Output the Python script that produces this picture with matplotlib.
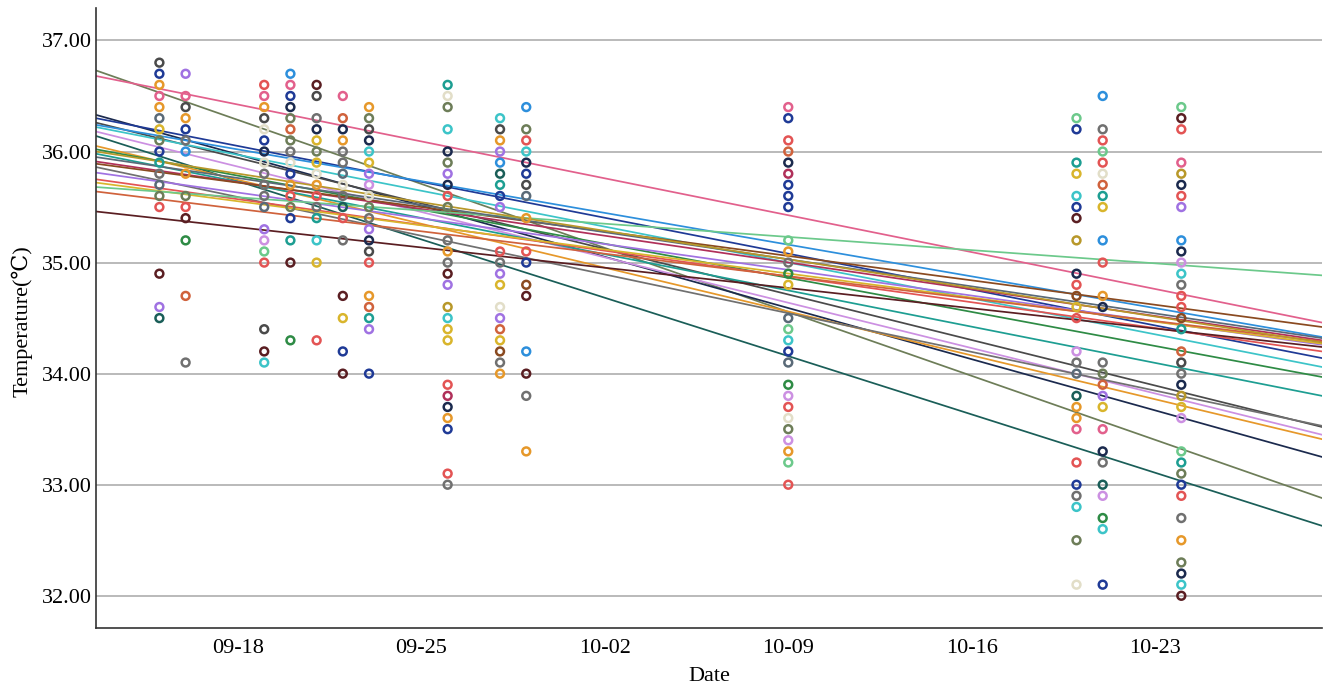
import matplotlib
matplotlib.use("Agg")
import matplotlib.pyplot as plt
import matplotlib.dates as mdates
import numpy as np
from datetime import datetime, timedelta

# colour names used by both the points and the fitted lines
palette = {
    "navy": "#1f3a96", "dnavy": "#1b2a4e", "blue": "#2d8fdc", "cyan": "#3cc4c8",
    "teal": "#1d9e92", "dteal": "#1a5e58", "green": "#2e8b45", "lgreen": "#6cc98b",
    "olive": "#6d7d58", "gold": "#d9b52c", "ogold": "#b8982a", "orange": "#e6982a",
    "rorange": "#d0623c", "red": "#e35454", "pink": "#e2608c", "crimson": "#b0305a",
    "maroon": "#5a1e22", "brown": "#8a4a20", "purple": "#a072e2", "lpurple": "#cc90e2",
    "gray": "#707070", "dgray": "#4a4a4a", "slate": "#5a6a78", "light": "#e2dec8",
}

dates = ["09-15", "09-16", "09-19", "09-20", "09-21", "09-22", "09-23",
         "09-26", "09-28", "09-29", "10-09", "10-20", "10-21", "10-24"]

temps = [
    [36.8, 36.7, 36.6, 36.5, 36.4, 36.3, 36.2, 36.1, 36.0, 35.9, 35.8, 35.7, 35.6, 35.5, 34.9, 34.6, 34.5],
    [36.7, 36.5, 36.4, 36.3, 36.2, 36.1, 36.0, 35.8, 35.6, 35.5, 35.4, 35.2, 34.7, 34.1],
    [36.6, 36.5, 36.4, 36.3, 36.2, 36.1, 36.0, 35.9, 35.8, 35.7, 35.6, 35.5, 35.3, 35.2, 35.1, 35.0, 34.4, 34.2, 34.1],
    [36.7, 36.6, 36.5, 36.4, 36.3, 36.2, 36.1, 36.0, 35.9, 35.8, 35.7, 35.6, 35.5, 35.4, 35.2, 35.0, 34.3],
    [36.6, 36.5, 36.3, 36.2, 36.1, 36.0, 35.9, 35.8, 35.7, 35.6, 35.5, 35.4, 35.2, 35.0, 34.3],
    [36.5, 36.3, 36.2, 36.1, 36.0, 35.9, 35.8, 35.7, 35.6, 35.5, 35.4, 35.2, 34.7, 34.5, 34.2, 34.0],
    [36.4, 36.3, 36.2, 36.1, 36.0, 35.9, 35.8, 35.7, 35.6, 35.5, 35.4, 35.3, 35.2, 35.1, 35.0, 34.7, 34.6, 34.5, 34.4, 34.0],
    [36.6, 36.5, 36.4, 36.2, 36.0, 35.9, 35.8, 35.7, 35.6, 35.5, 35.2, 35.1, 35.0, 34.9, 34.8, 34.6, 34.5, 34.4, 34.3,
     33.9, 33.8, 33.7, 33.6, 33.5, 33.1, 33.0],
    [36.3, 36.2, 36.1, 36.0, 35.9, 35.8, 35.7, 35.6, 35.5, 35.1, 35.0, 34.9, 34.8, 34.6, 34.5, 34.4, 34.3, 34.2, 34.1, 34.0],
    [36.4, 36.2, 36.1, 36.0, 35.9, 35.8, 35.7, 35.6, 35.4, 35.1, 35.0, 34.8, 34.7, 34.2, 34.0, 33.8, 33.3],
    [36.4, 36.3, 36.1, 36.0, 35.9, 35.8, 35.7, 35.6, 35.5, 35.2, 35.1, 35.0, 34.9, 34.8, 34.5, 34.4, 34.3, 34.2,
     34.1, 33.9, 33.8, 33.7, 33.6, 33.5, 33.4, 33.3, 33.2, 33.0],
    [36.3, 36.2, 35.9, 35.8, 35.6, 35.5, 35.4, 35.2, 34.9, 34.8, 34.7, 34.6, 34.5, 34.2, 34.1, 34.0, 33.8, 33.7,
     33.6, 33.5, 33.2, 33.0, 32.9, 32.8, 32.5, 32.1],
    [36.5, 36.2, 36.1, 36.0, 35.9, 35.8, 35.7, 35.6, 35.5, 35.2, 35.0, 34.7, 34.6, 34.1, 34.0, 33.9, 33.8, 33.7,
     33.5, 33.3, 33.2, 33.0, 32.9, 32.7, 32.6, 32.1],
    [36.4, 36.3, 36.2, 35.9, 35.8, 35.7, 35.6, 35.5, 35.2, 35.1, 35.0, 34.9, 34.8, 34.7, 34.6, 34.5, 34.4, 34.2,
     34.1, 34.0, 33.9, 33.8, 33.7, 33.6, 33.3, 33.2, 33.1, 33.0, 32.9, 32.7, 32.5, 32.3, 32.2, 32.1, 32.0],
]

point_colors = [
    ["dgray", "navy", "orange", "pink", "orange", "slate", "gold", "olive", "navy", "teal", "gray", "slate",
     "olive", "red", "maroon", "purple", "dteal"],
    ["purple", "pink", "dgray", "orange", "navy", "gray", "blue", "orange", "olive", "red", "maroon", "green",
     "rorange", "gray"],
    ["red", "pink", "orange", "dgray", "light", "navy", "dnavy", "light", "gray", "gray", "gray", "slate",
     "purple", "lpurple", "lgreen", "red", "dgray", "maroon", "cyan"],
    ["blue", "pink", "navy", "dnavy", "olive", "rorange", "olive", "gray", "light", "navy", "orange", "red",
     "olive", "navy", "teal", "maroon", "green"],
    ["maroon", "dgray", "gray", "dnavy", "gold", "olive", "gold", "light", "orange", "red", "gray", "teal",
     "cyan", "gold", "red"],
    ["pink", "rorange", "dnavy", "orange", "gray", "gray", "slate", "light", "gray", "dteal", "red", "gray",
     "maroon", "gold", "navy", "maroon"],
    ["orange", "olive", "dgray", "dnavy", "cyan", "gold", "purple", "lpurple", "light", "olive", "gray",
     "purple", "dnavy", "dgray", "red", "orange", "rorange", "teal", "purple", "navy"],
    ["teal", "light", "olive", "cyan", "dnavy", "olive", "purple", "dnavy", "red", "olive", "gray", "orange",
     "gray", "maroon", "purple", "ogold", "cyan", "gold", "gold", "red", "crimson", "dnavy", "orange", "navy",
     "red", "gray"],
    ["cyan", "dgray", "orange", "purple", "blue", "dteal", "teal", "navy", "purple", "red", "gray", "purple",
     "gold", "light", "purple", "rorange", "gold", "brown", "gray", "orange"],
    ["blue", "olive", "red", "cyan", "dnavy", "navy", "dgray", "slate", "orange", "red", "navy", "brown",
     "maroon", "blue", "maroon", "gray", "orange"],
    ["pink", "navy", "red", "rorange", "dnavy", "crimson", "navy", "navy", "navy", "lgreen", "orange", "gray",
     "green", "gold", "slate", "lgreen", "cyan", "navy", "slate", "green", "lpurple", "red", "light", "olive",
     "lpurple", "orange", "lgreen", "red"],
    ["lgreen", "navy", "teal", "gold", "cyan", "navy", "maroon", "ogold", "dnavy", "red", "brown", "gold",
     "red", "lpurple", "gray", "slate", "dteal", "orange", "orange", "pink", "red", "navy", "gray", "cyan",
     "olive", "light"],
    ["blue", "gray", "red", "lgreen", "red", "light", "rorange", "teal", "gold", "blue", "red", "orange",
     "dnavy", "gray", "olive", "rorange", "purple", "gold", "pink", "dnavy", "gray", "dteal", "lpurple",
     "green", "cyan", "navy"],
    ["lgreen", "maroon", "red", "pink", "ogold", "dnavy", "red", "purple", "blue", "dnavy", "lpurple", "cyan",
     "gray", "red", "red", "brown", "teal", "rorange", "dgray", "gray", "dnavy", "ogold", "gold", "lpurple",
     "lgreen", "teal", "olive", "navy", "red", "gray", "orange", "olive", "dnavy", "cyan", "maroon"],
]

# fitted lines: value at the left edge and at the right edge of the axis
line_colors = ["olive", "pink", "dnavy", "navy", "dgray", "cyan", "blue", "lpurple", "dteal", "orange",
               "green", "teal", "crimson", "brown", "gray", "red", "purple", "gold", "lgreen", "rorange",
               "maroon", "slate", "ogold"]
line_start = [36.73, 36.68, 36.33, 36.30, 36.26, 36.22, 36.24, 36.18, 36.14, 36.05,
              36.02, 35.98, 35.91, 35.89, 35.86, 35.75, 35.81, 35.72, 35.68, 35.64,
              35.46, 35.95, 36.00]
line_end = [32.88, 34.46, 33.25, 34.14, 33.52, 34.06, 34.33, 33.45, 32.63, 33.41,
            33.97, 33.80, 34.30, 34.42, 33.53, 34.20, 34.26, 34.27, 34.885, 34.29,
            34.24, 34.32, 34.28]

year = 2023
x_left = datetime(year, 9, 18) - timedelta(days=5.42)
x_right = datetime(year, 9, 18) + timedelta(days=41.37)

fig = plt.figure(figsize=(13.24, 6.87), dpi=100)
ax = fig.add_axes([0.0725, 0.0859, 0.926, 0.9021])

for d, vals, cols in zip(dates, temps, point_colors):
    day = datetime.strptime(f"{year}-{d}", "%Y-%m-%d")
    xs = [mdates.date2num(day)] * len(vals)
    ax.scatter(xs, vals, s=32, facecolors="none",
               edgecolors=[palette[c] for c in cols], linewidths=1.8, zorder=3)

xl = mdates.date2num([x_left, x_right])
for c, y0, y1 in zip(line_colors, line_start, line_end):
    ax.plot(xl, [y0, y1], color=palette[c], lw=1.25, zorder=2)

ax.set_xlim(xl[0], xl[1])
ax.set_ylim(31.71, 37.29)
ax.set_yticks([32, 33, 34, 35, 36, 37])
ax.yaxis.set_major_formatter(plt.FormatStrFormatter("%.2f"))
ax.set_xticks(mdates.date2num([datetime(year, 9, 18) + timedelta(days=7 * i) for i in range(6)]))
ax.xaxis.set_major_formatter(mdates.DateFormatter("%m-%d"))
ax.grid(axis="y", color="#b4b4b4", lw=1.3, zorder=0)
ax.set_axisbelow(True)

for side in ("top", "right"):
    ax.spines[side].set_visible(False)
for side in ("left", "bottom"):
    ax.spines[side].set_color("#333333")
    ax.spines[side].set_linewidth(1.2)

ax.tick_params(length=0)
ax.tick_params(axis="y", pad=3)
ax.tick_params(axis="x", pad=8)
for lab in ax.get_yticklabels() + ax.get_xticklabels():
    lab.set_fontfamily("Liberation Serif")
    lab.set_fontsize(16)

ax.set_xlabel("Date", fontfamily="Liberation Serif", fontsize=16, va="center")
ax.xaxis.set_label_coords(0.5, -0.079)
ax.set_ylabel("Temperature(℃)", fontfamily=["Liberation Serif", "DejaVu Serif"], fontsize=16, va="center")
ax.yaxis.set_label_coords(-0.0605, 0.495)

fig.savefig("out.png", dpi=100)
